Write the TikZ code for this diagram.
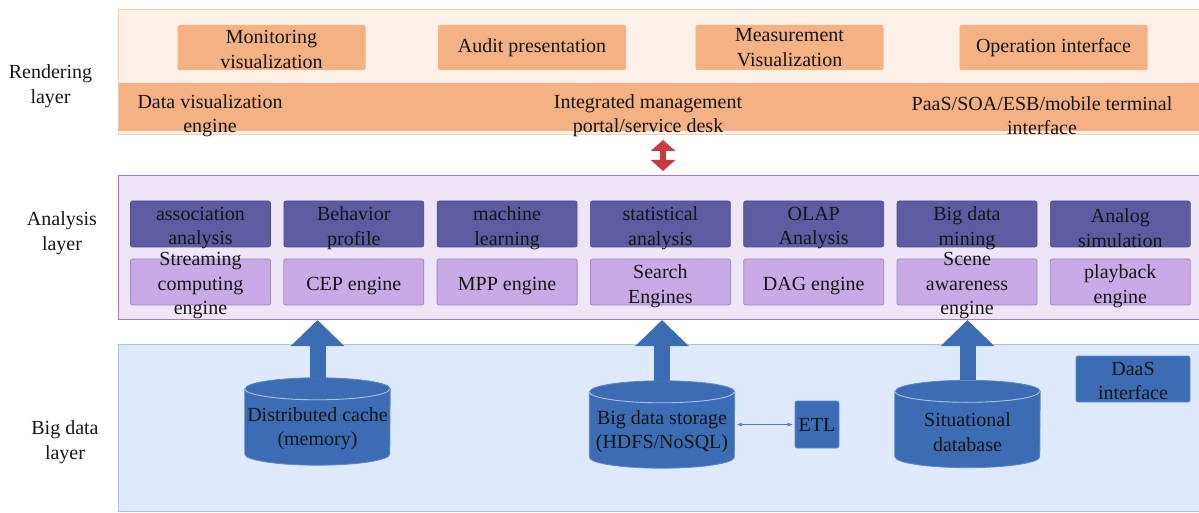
\documentclass[tikz,border=0pt]{standalone}
\usepackage{fontspec}
\setmainfont{Liberation Serif}
\usetikzlibrary{arrows.meta,calc}
\definecolor{rendbg}{HTML}{FDF1E7}
\definecolor{rendbd}{HTML}{F8CBAD}
\definecolor{orng}{HTML}{F4B183}
\definecolor{anabg}{HTML}{EEE6F7}
\definecolor{anabd}{HTML}{A07CCB}
\definecolor{dpur}{HTML}{5F5BA3}
\definecolor{lpur}{HTML}{C9AAE6}
\definecolor{lpurbd}{HTML}{9E88C8}
\definecolor{bigbg}{HTML}{DEEAFB}
\definecolor{bigbd}{HTML}{A9C3EE}
\definecolor{blu}{HTML}{3C6DB4}
\definecolor{bluedge}{HTML}{5E89C8}
\definecolor{cyledge}{HTML}{A9C1E8}
\definecolor{redarr}{HTML}{C73A3F}
\definecolor{thinblue}{HTML}{4F7FC4}
\definecolor{txtc}{HTML}{151515}
\newcommand\cylbody[1]{%
  \fill[blu,draw=bluedge,line width=0.8pt] ($(#1.north west)+(0,-11)$) -- ($(#1.south west)+(0,11)$)
    arc[start angle=180,end angle=360,x radius=72.5,y radius=11]
    -- ($(#1.north east)+(0,-11)$)
    arc[start angle=0,end angle=180,x radius=72.5,y radius=11] -- cycle;
  \draw[cyledge,line width=0.9pt] ($(#1.north west)+(0,-11)$)
    arc[start angle=180,end angle=360,x radius=72.5,y radius=11];
}
\tikzset{
  txt/.style={align=center,text=txtc,inner sep=0pt},
  tshift/.style={yshift=-2pt},
  lay/.style={anchor=south west,inner sep=0pt,line width=1pt,minimum width=1081pt},
  obox/.style={txt,fill=orng,rounded corners=2pt,minimum width=188pt,minimum height=45pt},
  dbox/.style={txt,fill=dpur,draw=dpur!85!black,line width=0.6pt,rounded corners=2pt,minimum width=140pt,minimum height=46pt},
  lbox/.style={txt,fill=lpur,draw=lpurbd,line width=0.8pt,rounded corners=2pt,minimum width=140pt,minimum height=46pt},
  cylnode/.style={inner sep=0pt,minimum width=145pt,minimum height=87pt},
  bbox/.style={txt,fill=blu,draw=bluedge,line width=0.8pt,rounded corners=2pt},
  barrow/.style={draw=blu,line width=16pt,-{Triangle[width=52pt,length=26pt]}},
  rarrow/.style={draw=redarr,line width=6pt,{Triangle[width=24pt,length=11pt]}-{Triangle[width=24pt,length=11pt]},shorten <=5pt,shorten >=4pt},
  tarrow/.style={draw=thinblue,line width=0.8pt,{Latex[length=5pt,width=4pt]}-{Latex[length=5pt,width=4pt]},shorten <=2pt,shorten >=2pt}
}
\begin{document}
\begin{tikzpicture}[x=1pt,y=1pt,font=\fontsize{20}{24.5}\selectfont]
\useasboundingbox (0,0) rectangle (1199,512);
% layers
\node[lay,fill=rendbg,draw=rendbd,minimum height=125pt] (rend) at (118,377) {};
\node[lay,fill=orng,minimum height=48pt,line width=0pt] (band) at (118.5,381) {};
\node[lay,fill=anabg,draw=anabd,minimum height=144pt] (ana) at (118,192) {};
\node[lay,fill=bigbg,draw=bigbd,minimum height=167pt] (big) at (118,0) {};
% layer labels
\node[txt] (lr) at (50.5,426) {Rendering\\layer};
\node[txt] (la) at (62,279) {Analysis\\layer};
\node[txt] (lb) at (65,70) {Big data\\layer};
% rendering layer
\node[obox] (mon) at (271.5,464.5) {\strut Monitoring\\visualization};
\node[obox] (aud) at (532,464.5) {Audit presentation};
\node[obox] (mea) at (789.5,464.5) {Measurement\\Visualization};
\node[obox] (ope) at (1053.5,464.5) {Operation interface};
\node[txt] (dve) at (210,396.5) {Data visualization\\engine};
\node[txt] (imp) at (648,396.5) {Integrated management\\portal/service desk};
\node[txt] (paas) at (1042,396.5) {PaaS/SOA/ESB/mobile terminal\\interface};
% analysis layer
\begin{scope}[every label/.append style={tshift}]
\node[dbox,label={[txt,tshift]center:association\\analysis}] (d1) at (200.5,288) {};
\node[dbox,label={[txt,tshift]center:Behavior\\profile}] (d2) at (353.8,288) {};
\node[dbox,label={[txt,tshift]center:machine\\learning}] (d3) at (507.1,288) {};
\node[dbox,label={[txt,tshift]center:statistical\\analysis}] (d4) at (660.4,288) {};
\node[dbox,label={[txt,tshift]center:OLAP\\Analysis}] (d5) at (813.7,288) {};
\node[dbox,label={[txt,tshift]center:Big data\\mining}] (d6) at (967,288) {};
\node[dbox,label={[txt,tshift]center:Analog\\simulation}] (d7) at (1120.3,288) {};
\node[lbox,label={[txt,tshift]center:Streaming\\computing\\engine}] (e1) at (200.5,230) {};
\node[lbox,label={[txt,tshift]center:CEP engine}] (e2) at (353.8,230) {};
\node[lbox,label={[txt,tshift]center:MPP engine}] (e3) at (507.1,230) {};
\node[lbox,label={[txt,tshift]center:Search\\Engines}] (e4) at (660.4,230) {};
\node[lbox,label={[txt,tshift]center:DAG engine}] (e5) at (813.7,230) {};
\node[lbox,label={[txt,tshift]center:Scene\\awareness\\engine}] (e6) at (967,230) {};
\node[lbox,label={[txt,tshift]center:playback\\engine}] (e7) at (1120.3,230) {};
\end{scope}
% big data layer
\node[cylnode] (dc) at (317.5,90.5) {};
\node[cylnode] (bds) at (662,87.5) {};
\node[cylnode] (sit) at (967.5,88) {};
\cylbody{dc}
\cylbody{bds}
\cylbody{sit}
\node[txt] (dct) at ($(dc)+(0,-7)$) {Distributed cache\\(memory)};
\node[txt] (bdst) at ($(bds)+(0,-7)$) {Big data storage\\(HDFS/NoSQL)};
\node[txt] (sitt) at ($(sit)+(0,-8)$) {Situational\\database};
\node[bbox,minimum width=44pt,minimum height=47pt] (etl) at (817,87.5) {ETL};
\node[bbox,minimum width=114pt,minimum height=46pt] (daas) at (1133,133) {};
\node[txt] (daast) at (1133,131) {DaaS\\interface};
% connectors
\draw[barrow] (dc.north) -- (dc.north |- ana.south);
\draw[barrow] (bds.north) -- (bds.north |- ana.south);
\draw[barrow] (sit.north) -- (sit.north |- ana.south);
\coordinate (rx) at (663,0);
\draw[rarrow] (rend.south -| rx) -- (ana.north -| rx);
\draw[tarrow] (bds.east) -- (etl.west);
\end{tikzpicture}
\end{document}
